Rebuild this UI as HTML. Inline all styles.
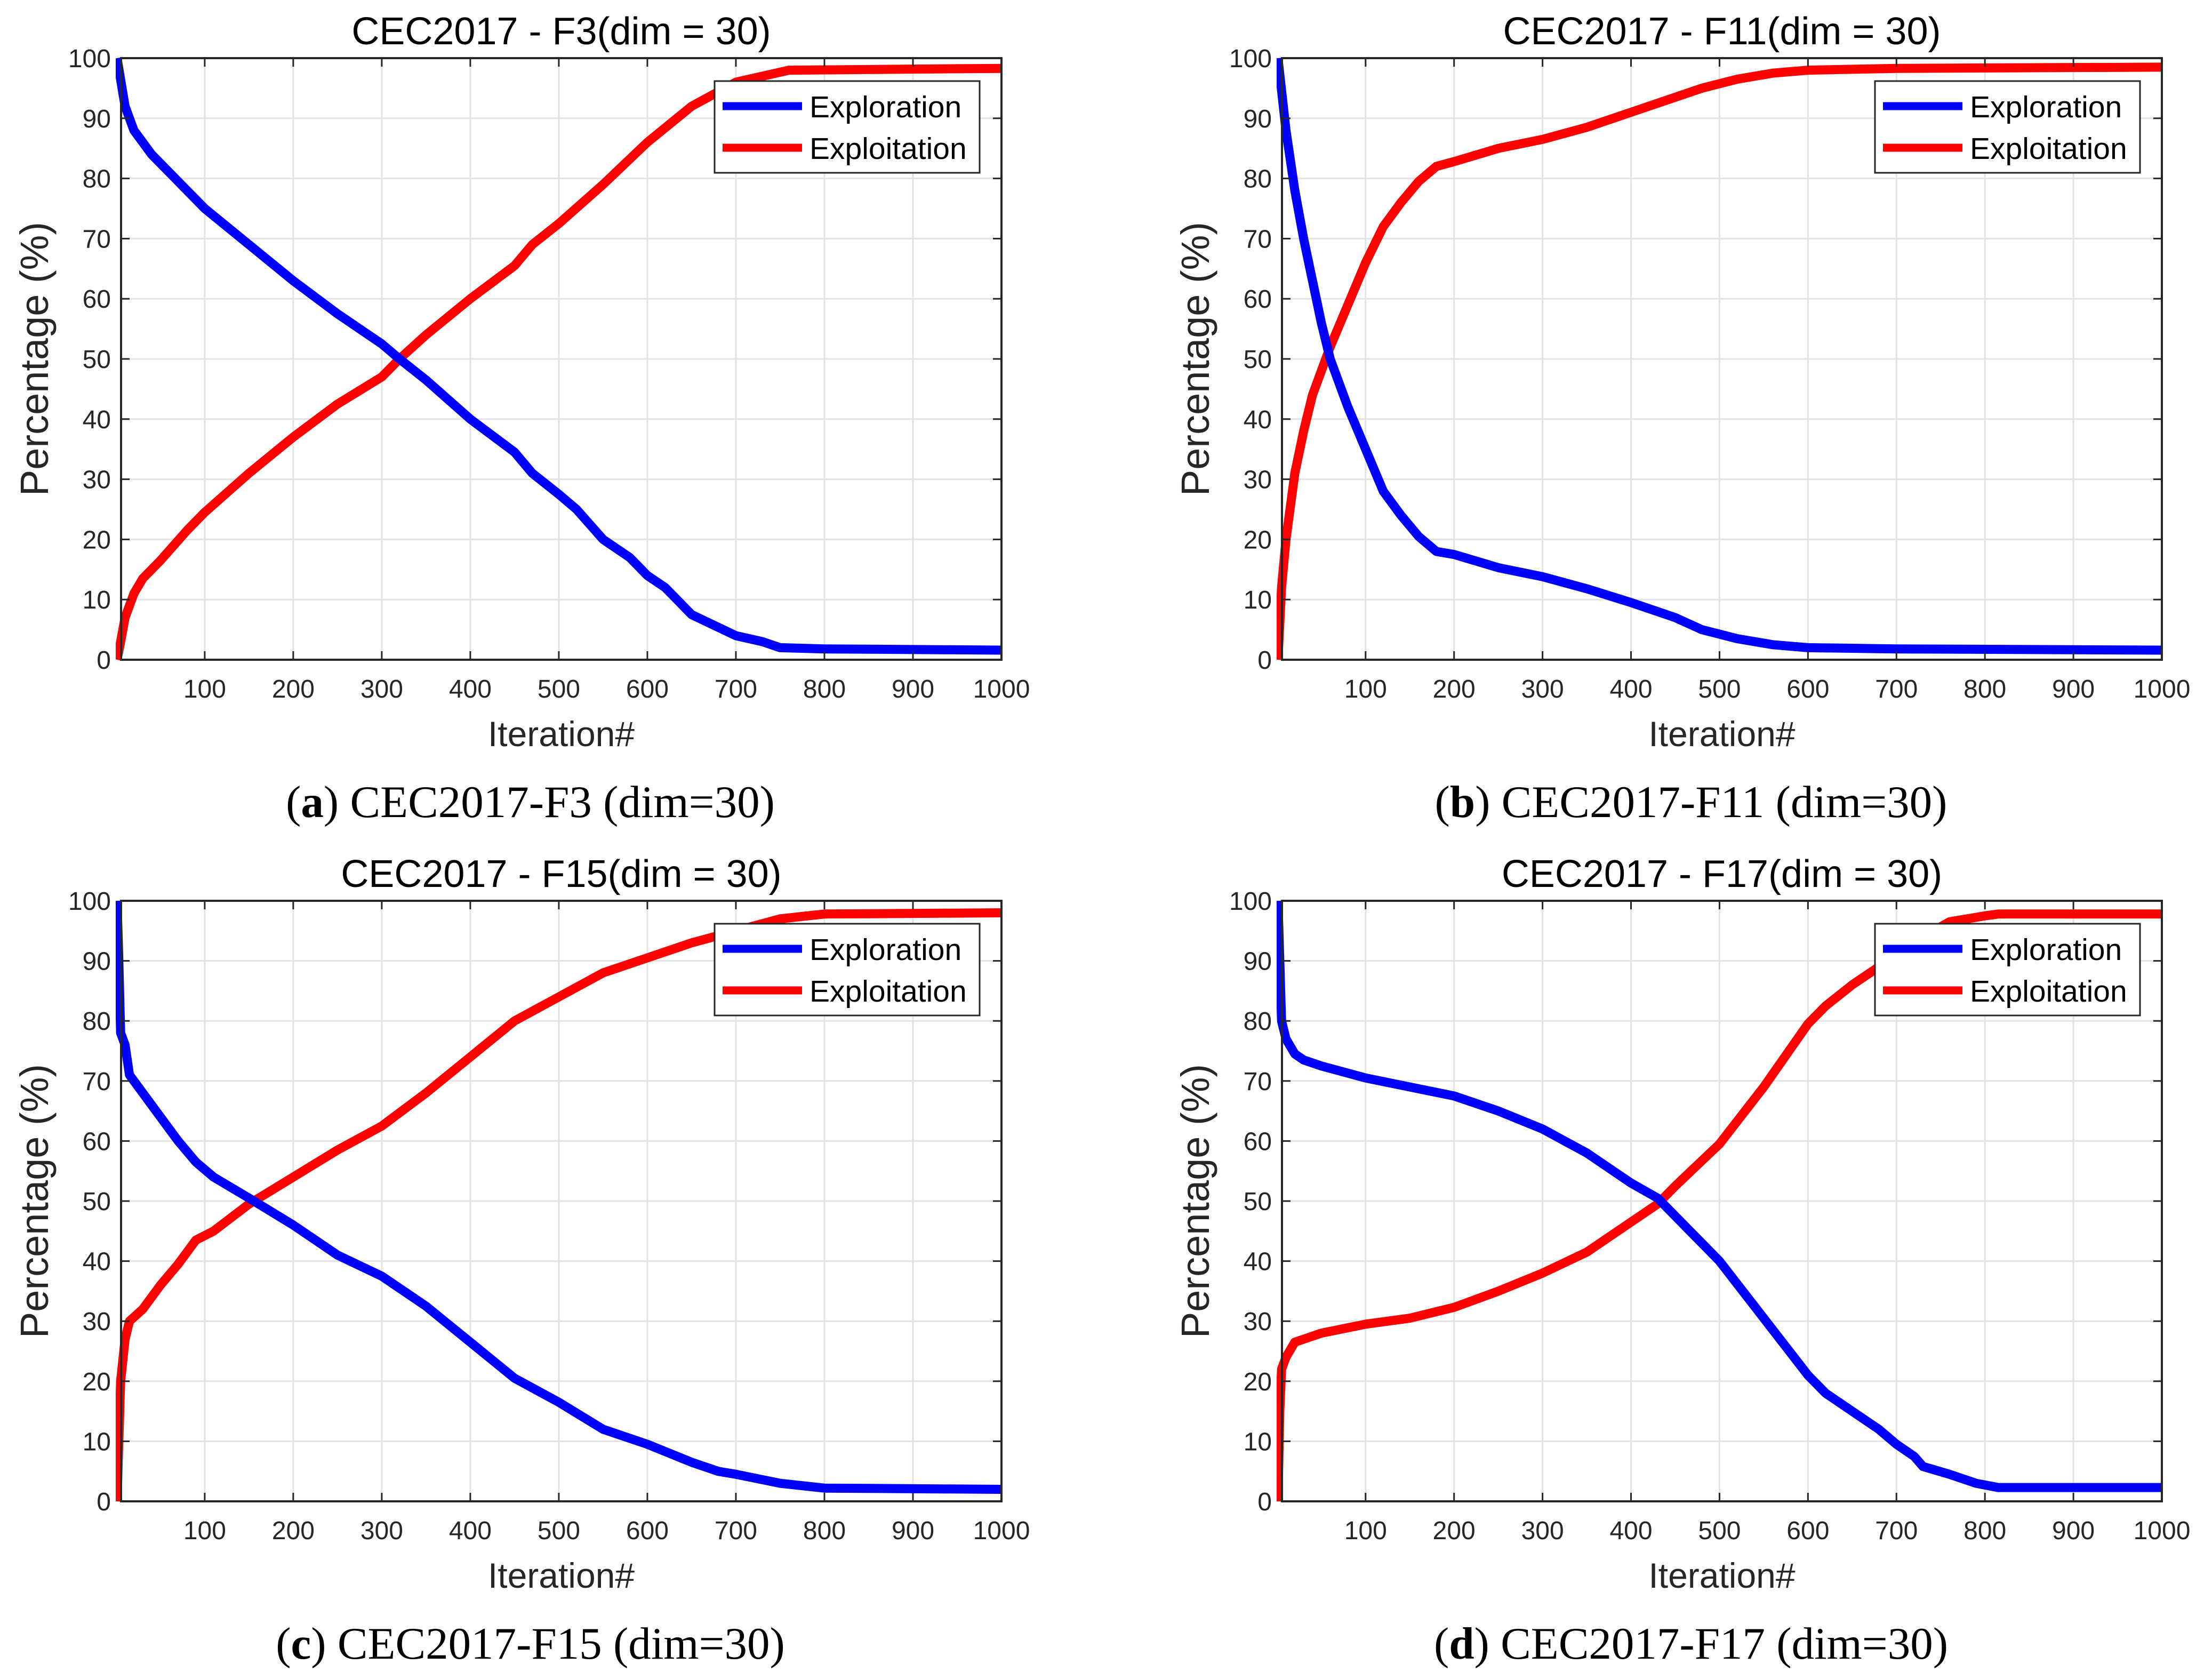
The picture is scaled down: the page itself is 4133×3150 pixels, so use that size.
<!DOCTYPE html>
<html><head><meta charset="utf-8">
<style>
html,body{margin:0;padding:0;background:#fff;}
svg{display:block;}
</style></head>
<body>
<svg id="fig" width="4133" height="3150" viewBox="0 0 4133 3150" xmlns="http://www.w3.org/2000/svg"></svg>
<script>
// ---- data (iteration, percentage) ----
const xTicks = [100,200,300,400,500,600,700,800,900,1000];
const yTicks = [0,10,20,30,40,50,60,70,80,90,100];
const titles = ["CEC2017 - F3(dim = 30)","CEC2017 - F11(dim = 30)","CEC2017 - F15(dim = 30)","CEC2017 - F17(dim = 30)"];
const captionLetters = ["a","b","c","d"];
const captionTexts = [" CEC2017-F3 (dim=30)"," CEC2017-F11 (dim=30)"," CEC2017-F15 (dim=30)"," CEC2017-F17 (dim=30)"];

const aIter  = [1,10,20,40,60,80,100,150,200,250,300,320,350,400,450,470,500,520,550,580,600,620,650,700,730,750,800,1000];
const aExplore = [100,92,88,84,81,78,75,69,63,57.5,52.5,50,46.5,40,34.5,31,27.5,25,20,17,14,12,7.5,4,3,2,1.8,1.6];
const aIterR = [1,5,10,20,30,50,80,100,150,200,250,300,320,350,400,450,470,500,550,600,650,700,730,760,1000];
const aExploit = [0,3,7,11,13.5,16.5,21.5,24.5,31,37,42.5,47,50,54,60,65.5,69,72.5,79,86,92,96,97,98,98.3];

const bIter = [1,10,20,30,40,50,60,80,100,120,140,160,180,200,250,300,350,400,450,480,520,560,600,700,1000];
const bExplore = [100,88,78,70,63,56,50,42,35,28,24,20.5,18,17.5,15.3,13.8,11.8,9.5,7,5,3.5,2.5,2,1.8,1.6];
const bIterR = [1,5,10,20,30,40,50,60,80,100,120,140,160,180,200,250,300,350,400,450,480,520,560,600,700,1000];
const bExploit = [0,12,20,31,38,44,48,52,59,66,72,76,79.5,82,82.8,85,86.5,88.5,91,93.5,95,96.5,97.5,98,98.3,98.5];

const cIter = [1,3,5,10,15,30,50,70,90,110,150,200,250,300,350,400,450,500,550,600,650,680,700,750,800,1000];
const cExplore = [100,90,78,76,71,68,64,60,56.5,54,50.5,46,41,37.5,32.5,26.5,20.5,16.5,12,9.5,6.5,5,4.5,3,2.2,2];
const cIterR = [1,3,5,10,15,30,50,70,90,110,150,200,250,300,350,400,450,500,550,600,650,700,750,800,1000];
const cExploit = [0,10,20,27,30,32,36,39.5,43.5,45,49.5,54,58.5,62.5,68,74,80,84,88,90.5,93,95,97,97.8,98];

const dIter = [1,3,5,10,20,30,50,100,150,200,250,300,350,400,430,450,500,550,600,620,650,680,700,720,730,760,790,815,1000];
const dExplore = [100,90,80,77,74.5,73.5,72.5,70.5,69,67.5,65,62,58,53,50.5,47.5,40,30.5,21,18,15,12,9.5,7.5,5.8,4.5,3,2.3,2.3];
const dIterR = [1,3,5,10,20,30,50,100,150,200,250,300,350,400,430,450,500,550,600,620,650,680,700,730,760,800,815,1000];
const dExploit = [0,15,22,24,26.5,27,28,29.5,30.5,32.3,35,38,41.5,46.5,49.5,52.5,59.5,69,79.5,82.5,86,89,91,94,96.5,97.5,97.8,97.8];

const panelsData = [
  {ex:[aIter,aExplore], ep:[aIterR,aExploit]},
  {ex:[bIter,bExplore], ep:[bIterR,bExploit]},
  {ex:[cIter,cExplore], ep:[cIterR,cExploit]},
  {ex:[dIter,dExplore], ep:[dIterR,dExploit]}
];

// ---- layout ----
const boxes = [
  {l:227,r:1878,t:109,b:1237},
  {l:2404,r:4054,t:109,b:1237},
  {l:227,r:1878,t:1689,b:2815},
  {l:2404,r:4054,t:1689,b:2815}
];
const NS = "http://www.w3.org/2000/svg";
const svg = document.getElementById('fig');
function mk(tag, attrs, parent){
  const e = document.createElementNS(NS, tag);
  for (const k in attrs) e.setAttribute(k, attrs[k]);
  (parent||svg).appendChild(e);
  return e;
}
const defs = mk('defs',{});
const X0 = 5.5, X1 = 1000;

boxes.forEach((bx, i) => {
  const g = mk('g',{});
  
  
  const W = bx.r - bx.l, H = bx.b - bx.t;
  const xs = v => bx.l + (v - X0) / (X1 - X0) * W;
  const ys = v => bx.b - v / 100 * H;
  const cp = mk('clipPath',{id:'clip'+i}, defs);
  mk('rect',{x:bx.l-10,y:bx.t-10,width:W+10,height:H+20}, cp);

  xTicks.forEach(t => {
    const l = mk('line',{x1:xs(t),x2:xs(t),y1:bx.t,y2:bx.b,stroke:'#e3e3e3','stroke-width':3}, g);
    
    
  });
  yTicks.forEach(t => {
    const l = mk('line',{x1:bx.l,x2:bx.r,y1:ys(t),y2:ys(t),stroke:'#e3e3e3','stroke-width':3}, g);
    
    
  });

  const drawLine = (arr, color, name) => {
    const [xv, yv] = arr;
    const d = xv.map((x,k) => (k?'L':'M') + xs(x).toFixed(1) + ' ' + ys(yv[k]).toFixed(1)).join(' ');
    const p = mk('path',{d:d,fill:'none',stroke:color,'stroke-width':17,'stroke-linejoin':'round','clip-path':'url(#clip'+i+')'}, g);
    
    
  };
  drawLine(panelsData[i].ep, '#ff0000', 'exploitation-line');
  drawLine(panelsData[i].ex, '#0000ff', 'exploration-line');

  const ax = mk('rect',{x:bx.l,y:bx.t,width:W,height:H,fill:'none',stroke:'#262626','stroke-width':4}, g);
  
  

  xTicks.forEach(t => {
    mk('line',{x1:xs(t),x2:xs(t),y1:bx.b,y2:bx.b-16,stroke:'#262626','stroke-width':3}, g);
    mk('line',{x1:xs(t),x2:xs(t),y1:bx.t,y2:bx.t+16,stroke:'#262626','stroke-width':3}, g);
    const tx = mk('text',{x:xs(t),y:bx.b+71,'text-anchor':'middle','font-family':'Liberation Sans, sans-serif','font-size':48,fill:'#262626'}, g);
    tx.textContent = t;
    
    
  });
  yTicks.forEach(t => {
    mk('line',{x1:bx.l,x2:bx.l+16,y1:ys(t),y2:ys(t),stroke:'#262626','stroke-width':3}, g);
    mk('line',{x1:bx.r,x2:bx.r-16,y1:ys(t),y2:ys(t),stroke:'#262626','stroke-width':3}, g);
    const tx = mk('text',{x:bx.l-19,y:ys(t)+17,'text-anchor':'end','font-family':'Liberation Sans, sans-serif','font-size':48,fill:'#262626'}, g);
    tx.textContent = t;
    
    
  });

  const ti = mk('text',{x:(bx.l+bx.r)/2,y:bx.t-26,'text-anchor':'middle','font-family':'Liberation Sans, sans-serif','font-size':72,fill:'#000'}, g);
  ti.textContent = titles[i];
  
  

  const xl = mk('text',{x:(bx.l+bx.r)/2,y:bx.b+162,'text-anchor':'middle','font-family':'Liberation Sans, sans-serif','font-size':66,fill:'#262626'}, g);
  xl.textContent = 'Iteration#';
  
  
  const cy = (bx.t+bx.b)/2, cx = bx.l-137;
  const yl = mk('text',{x:cx,y:cy,'text-anchor':'middle','font-family':'Liberation Sans, sans-serif','font-size':74,fill:'#262626',transform:'rotate(-90 '+cx+' '+cy+')'}, g);
  yl.textContent = 'Percentage (%)';
  
  

  const lg = mk('g',{}, g);
  
  
  const lx = bx.r - 538, ly = bx.t + 43;
  mk('rect',{x:lx,y:ly,width:497,height:172,fill:'#fff',stroke:'#262626','stroke-width':3}, lg);
  [['Exploration','#0000ff',90],['Exploitation','#ff0000',168]].forEach(([lab,col,dy]) => {
    const en = mk('g',{}, lg);
    
    
    mk('line',{x1:lx+15,x2:lx+164,y1:ly+dy-43,y2:ly+dy-43,stroke:col,'stroke-width':15}, en);
    const t = mk('text',{x:lx+178,y:ly+dy-22,'font-family':'Liberation Sans, sans-serif','font-size':57,fill:'#000'}, en);
    t.textContent = lab;
  });

  const cap = mk('text',{x:(bx.l+bx.r)/2 - 58,y:bx.b+295,'text-anchor':'middle','font-family':'Liberation Serif, serif','font-size':85,fill:'#000'}, g);
  
  
  const s1 = mk('tspan',{}, cap); s1.textContent = '(';
  const s2 = mk('tspan',{'font-weight':'bold'}, cap); s2.textContent = captionLetters[i];
  const s3 = mk('tspan',{}, cap); s3.textContent = ')' + captionTexts[i];
});
</script>
</body></html>
